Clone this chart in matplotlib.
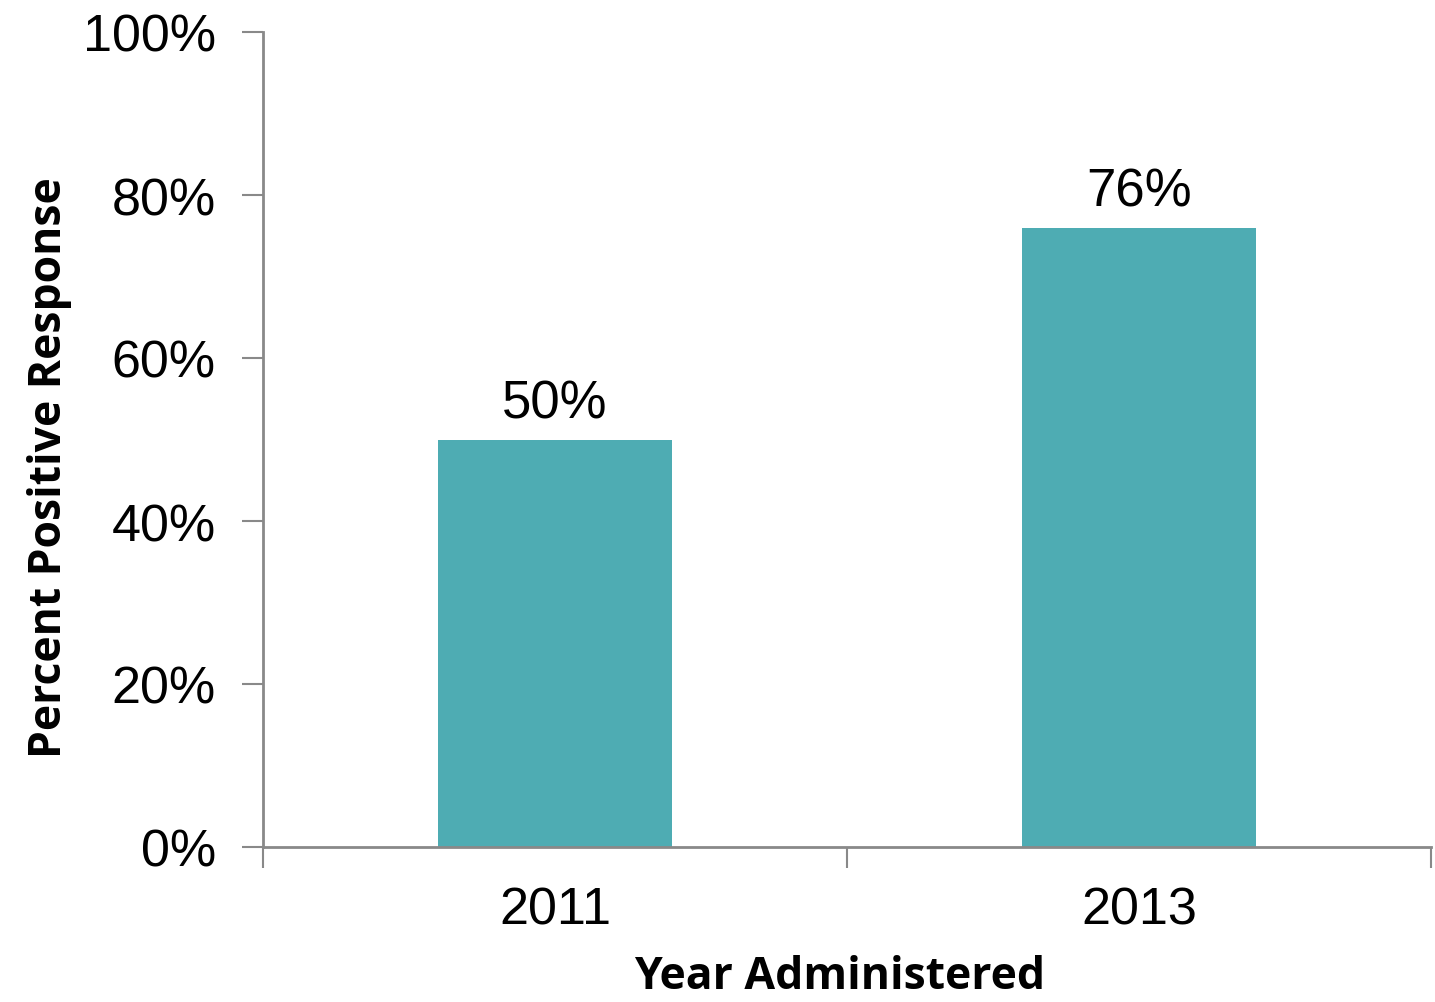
import matplotlib
matplotlib.use("Agg")
import matplotlib.pyplot as plt
from matplotlib.ticker import FixedLocator, PercentFormatter

years = ["2011", "2013"]
values = [50, 76]
yticks = [0, 20, 40, 60, 80, 100]

bar_color = "#4EACB3"
axis_color = "#898989"

fig = plt.figure(figsize=(14.35, 10.03), dpi=100)
ax = fig.add_axes([263 / 1435, 1 - 848 / 1003, (1431 - 263) / 1435, (848 - 33) / 1003])

x = list(range(len(years)))
bars = ax.bar(x, values, width=0.4, color=bar_color, zorder=2)

ax.set_xlim(-0.5, len(years) - 0.5)
ax.set_ylim(0, 100)

# y axis
ax.set_yticks(yticks)
ax.yaxis.set_major_formatter(PercentFormatter(decimals=0))
ax.tick_params(axis="y", length=15, width=1.5, color=axis_color, pad=19,
               labelsize=37.5)
for lbl in ax.get_yticklabels():
    lbl.set_fontfamily("Liberation Sans")

# x axis: labels at centers, tick marks on category boundaries
ax.set_xticks(x)
ax.set_xticklabels(years, fontfamily="Liberation Sans", fontsize=37.5)
ax.tick_params(axis="x", which="major", length=0, pad=28)
ax.xaxis.set_minor_locator(FixedLocator([i - 0.5 for i in range(len(years) + 1)]))
ax.tick_params(axis="x", which="minor", length=15, width=1.5, color=axis_color)

for side in ("top", "right"):
    ax.spines[side].set_visible(False)
for side in ("left", "bottom"):
    ax.spines[side].set_color(axis_color)
    ax.spines[side].set_linewidth(2)

# value labels
for xi, v in zip(x, values):
    ax.annotate(f"{v}%", (xi, v), xytext=(0, 16), textcoords="offset points",
                ha="center", va="baseline", fontsize=38,
                fontfamily="Liberation Sans")

ax.set_xlabel("Year Administered", fontfamily="Open Sans", fontweight="bold",
              fontsize=32, labelpad=14)
ax.set_ylabel("Percent Positive Response", fontfamily="Open Sans",
              fontweight="bold", fontsize=32, labelpad=8)
ax.xaxis.label.set_x(0.494)
ax.yaxis.label.set_y(0.467)

fig.savefig("out.png", dpi=100)
